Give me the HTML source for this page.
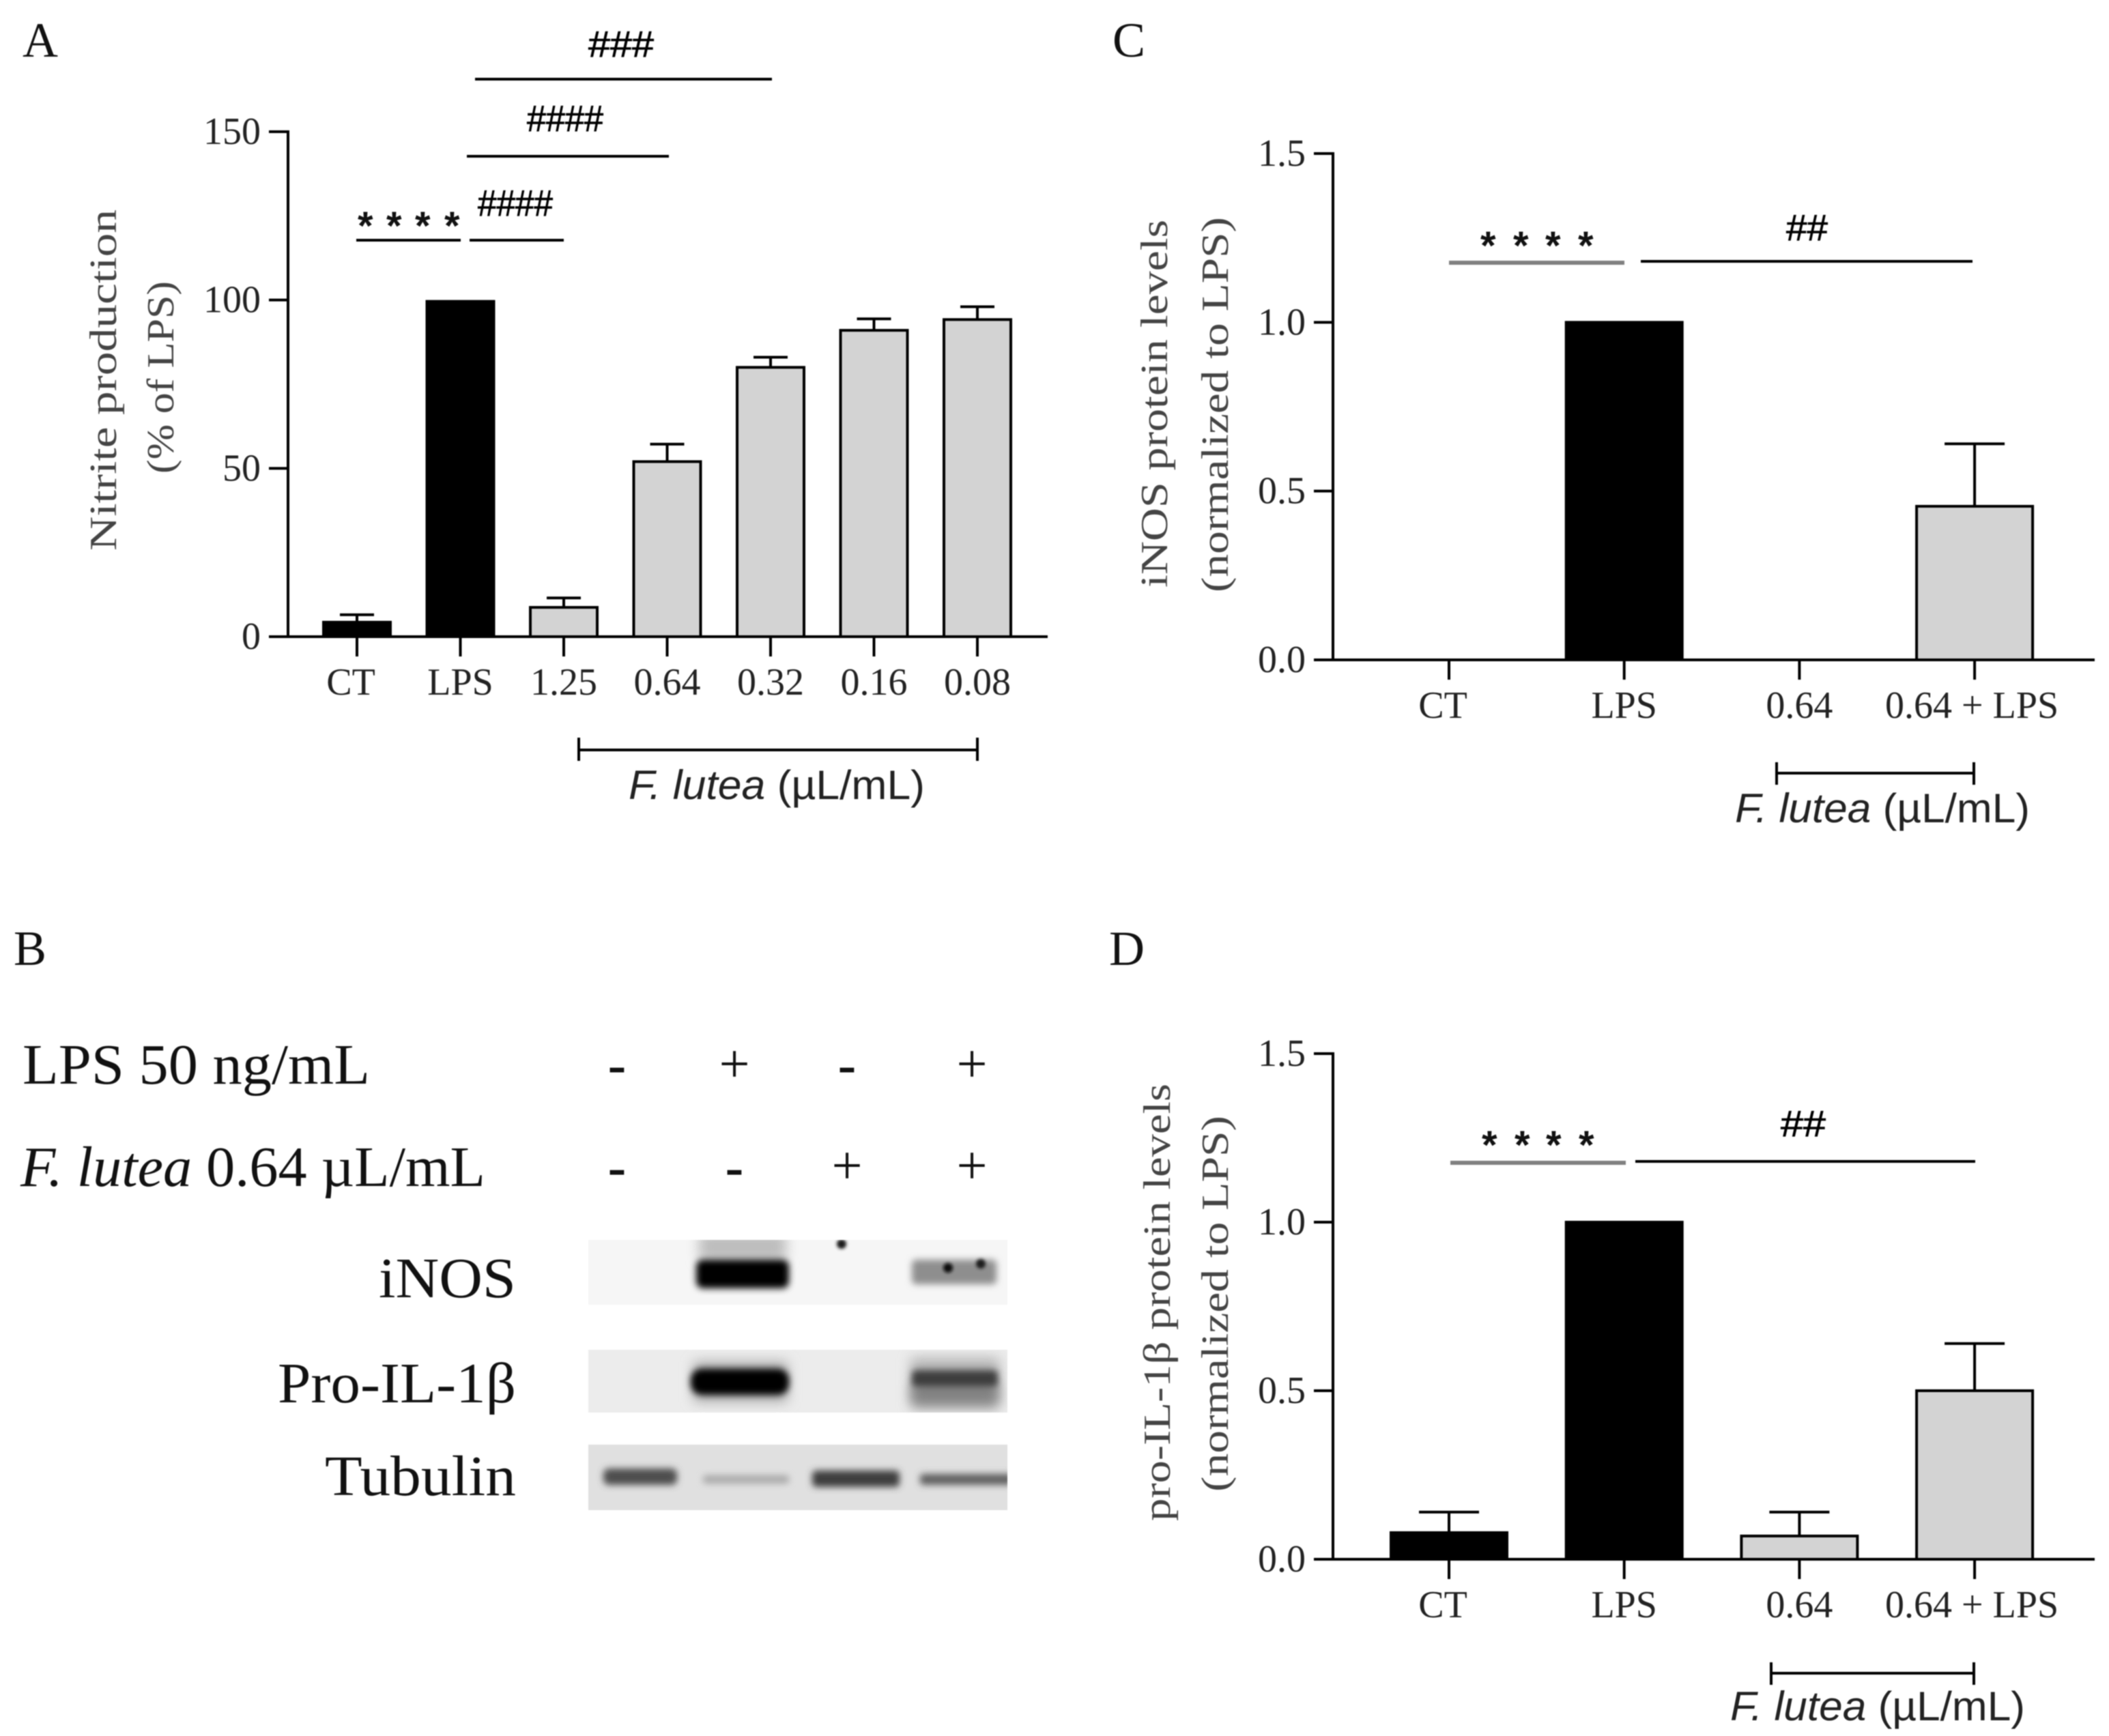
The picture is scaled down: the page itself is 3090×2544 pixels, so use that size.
<!DOCTYPE html>
<html lang="en">
<head>
<meta charset="utf-8">
<title>F. lutea nitrite, iNOS and pro-IL-1β figure</title>
<style>
html,body{margin:0;padding:0;background:#fff;}
svg{display:block;filter:blur(0.8px);}
text{font-family:"Liberation Serif",serif;fill:#222;}
.sans{font-family:"Liberation Sans",sans-serif;}
.tick{font-size:56px;}
.ytitle{font-size:56px;fill:#444;}
.panel{font-size:72px;fill:#111;}
.ann{font-family:"Liberation Sans",sans-serif;font-size:54px;fill:#000;stroke:#000;stroke-width:0.8px;}
.star{font-family:"Liberation Sans",sans-serif;font-size:58px;font-weight:bold;fill:#111;}
.sig{stroke:#000;stroke-width:4;fill:none;}
.sigg{stroke:#808080;stroke-width:6;fill:none;}
.blotlab{font-size:84px;fill:#111;}
.sign{font-size:80px;fill:#111;text-anchor:middle;}
</style>
</head>
<body>
<svg id="figure" xmlns="http://www.w3.org/2000/svg" width="3090" height="2544" viewBox="0 0 3090 2544">
  <defs>
    <filter id="b3" x="-30%" y="-80%" width="160%" height="260%"><feGaussianBlur stdDeviation="5"/></filter>
    <filter id="b6" x="-30%" y="-80%" width="160%" height="260%"><feGaussianBlur stdDeviation="9"/></filter>
    <filter id="b2" x="-80%" y="-80%" width="260%" height="260%"><feGaussianBlur stdDeviation="2.5"/></filter>
    <clipPath id="clipInos"><rect x="862" y="1817" width="614" height="95"/></clipPath>
    <clipPath id="clipPro"><rect x="862" y="1978" width="614" height="92"/></clipPath>
    <clipPath id="clipTub"><rect x="862" y="2117" width="614" height="96"/></clipPath>
  </defs>
  <rect width="3090" height="2544" fill="#fff"/>

  <g id="panelA"></g>
  <g id="panelC"></g>
  <g id="panelD"></g>

  <!-- panel letters -->
  <text class="panel" x="33" y="83">A</text>
  <text class="panel" x="20" y="1414">B</text>
  <text class="panel" x="1630" y="83">C</text>
  <text class="panel" x="1625" y="1414">D</text>

  <!-- panel A annotations -->
  <g>
    <text class="ann" x="862" y="83" textLength="96" lengthAdjust="spacingAndGlyphs">###</text>
    <line class="sig" x1="696" y1="116" x2="1131" y2="116"/>
    <text class="ann" x="772" y="192" textLength="112" lengthAdjust="spacingAndGlyphs">####</text>
    <line class="sig" x1="684" y1="229" x2="980" y2="229"/>
    <text class="ann" x="700" y="316" textLength="110" lengthAdjust="spacingAndGlyphs">####</text>
    <line class="sig" x1="688" y1="352" x2="826" y2="352"/>
    <text class="star" x="524 566 608 651" y="351">****</text>
    <line class="sig" x1="522" y1="352" x2="675" y2="352"/>
  </g>
  <g>
    <path class="sig" d="M848 1081V1115M848 1099H1432M1432 1081V1115"/>
    <text class="sans" x="921" y="1171" font-size="60" textLength="434" lengthAdjust="spacingAndGlyphs"><tspan font-style="italic">F. lutea</tspan> (µL/mL)</text>
  </g>

  <!-- panel C annotations -->
  <g>
    <text class="star" x="2169 2217 2264 2312" y="380">****</text>
    <line class="sigg" x1="2123" y1="385" x2="2380" y2="385"/>
    <text class="ann" x="2617" y="352" textLength="61" lengthAdjust="spacingAndGlyphs">##</text>
    <line class="sig" x1="2404" y1="383" x2="2890" y2="383"/>
  </g>
  <g>
    <path class="sig" d="M2603 1117V1150M2603 1133H2892M2892 1117V1150"/>
    <text class="sans" x="2542" y="1205" font-size="60" textLength="432" lengthAdjust="spacingAndGlyphs"><tspan font-style="italic">F. lutea</tspan> (µL/mL)</text>
  </g>

  <!-- panel D annotations -->
  <g>
    <text class="star" x="2171 2219 2265 2313" y="1698">****</text>
    <line class="sigg" x1="2125" y1="1704" x2="2382" y2="1704"/>
    <text class="ann" x="2609" y="1665" textLength="66" lengthAdjust="spacingAndGlyphs">##</text>
    <line class="sig" x1="2396" y1="1702" x2="2894" y2="1702"/>
  </g>
  <g>
    <path class="sig" d="M2595 2436V2469M2595 2452H2892M2892 2436V2469"/>
    <text class="sans" x="2535" y="2521" font-size="60" textLength="432" lengthAdjust="spacingAndGlyphs"><tspan font-style="italic">F. lutea</tspan> (µL/mL)</text>
  </g>

  <!-- panel B western blot -->
  <g>
    <text class="blotlab" x="33" y="1588" textLength="509" lengthAdjust="spacingAndGlyphs">LPS 50 ng/mL</text>
    <text class="blotlab" x="30" y="1738" textLength="681" lengthAdjust="spacingAndGlyphs"><tspan font-style="italic">F. lutea</tspan> 0.64 µL/mL</text>

    <text class="sign" font-weight="bold" x="904" y="1587">-</text>
    <text class="sign" x="1076" y="1586">+</text>
    <text class="sign" font-weight="bold" x="1241" y="1587">-</text>
    <text class="sign" x="1424" y="1586">+</text>
    <text class="sign" font-weight="bold" x="904" y="1737">-</text>
    <text class="sign" font-weight="bold" x="1076" y="1737">-</text>
    <text class="sign" x="1241" y="1735">+</text>
    <text class="sign" x="1424" y="1735">+</text>

    <text class="blotlab" x="555" y="1901" textLength="201" lengthAdjust="spacingAndGlyphs">iNOS</text>
    <text class="blotlab" x="407" y="2055" textLength="349" lengthAdjust="spacingAndGlyphs">Pro-IL-1β</text>
    <text class="blotlab" x="476" y="2191" textLength="280" lengthAdjust="spacingAndGlyphs">Tubulin</text>

    <g clip-path="url(#clipInos)">
      <rect x="862" y="1817" width="614" height="95" fill="#f6f6f6"/>
      <rect x="1024" y="1806" width="128" height="42" fill="#bdbdbd" filter="url(#b6)"/>
      <rect x="1020" y="1846" width="136" height="42" rx="10" fill="#000" filter="url(#b3)"/>
      <rect x="1336" y="1846" width="124" height="36" rx="6" fill="#8e8e8e" filter="url(#b3)"/>
      <circle cx="1233" cy="1823" r="7" fill="#1a1a1a" filter="url(#b2)"/>
      <circle cx="1389" cy="1858" r="7" fill="#0a0a0a" filter="url(#b2)"/>
      <circle cx="1437" cy="1852" r="7" fill="#1a1a1a" filter="url(#b2)"/>
    </g>
    <g clip-path="url(#clipPro)">
      <rect x="862" y="1978" width="614" height="92" fill="#ececec"/>
      <rect x="1016" y="1996" width="138" height="58" fill="#a8a8a8" filter="url(#b6)"/>
      <rect x="1012" y="2006" width="144" height="38" rx="16" fill="#000" filter="url(#b3)"/>
      <rect x="1334" y="1990" width="130" height="74" fill="#b4b4b4" filter="url(#b6)"/>
      <rect x="1336" y="2026" width="126" height="32" rx="6" fill="#808080" filter="url(#b6)"/>
      <rect x="1336" y="2008" width="126" height="24" rx="6" fill="#3c3c3c" filter="url(#b3)"/>
    </g>
    <g clip-path="url(#clipTub)">
      <rect x="862" y="2117" width="614" height="96" fill="#e0e0e0"/>
      <rect x="884" y="2152" width="108" height="24" rx="8" fill="#4e4e4e" filter="url(#b3)"/>
      <rect x="1030" y="2162" width="126" height="12" rx="4" fill="#a8a8a8" filter="url(#b3)"/>
      <rect x="1190" y="2155" width="128" height="24" rx="6" fill="#3e3e3e" filter="url(#b3)"/>
      <rect x="1348" y="2160" width="136" height="16" rx="4" fill="#5e5e5e" filter="url(#b3)"/>
    </g>
  </g>
</svg>

<script>
// Panel A data
const aCategories = ['CT', 'LPS', '1.25', '0.64', '0.32', '0.16', '0.08'];
const aValues = [4.3, 99.6, 8.7, 52, 80, 91, 94.2];
const aErrors = [2.2, 0, 2.8, 5.2, 3, 3.4, 3.8];
const aTicks = [0, 50, 100, 150];
const aTickLabels = ['0', '50', '100', '150'];

// Panel C data
const cCategories = ['CT', 'LPS', '0.64', '0.64 + LPS'];
const cValues = [0, 1, 0, 0.455];
const cErrors = [0, 0, 0, 0.185];
const cTicks = [0, 0.5, 1, 1.5];
const cTickLabels = ['0.0', '0.5', '1.0', '1.5'];

// Panel D data
const dCategories = ['CT', 'LPS', '0.64', '0.64 + LPS'];
const dValues = [0.079, 1, 0.069, 0.5];
const dErrors = [0.061, 0, 0.071, 0.14];
const dTicks = [0, 0.5, 1, 1.5];
const dTickLabels = ['0.0', '0.5', '1.0', '1.5'];

const SVGNS = 'http://www.w3.org/2000/svg';
function mk(parent, tag, attrs, txt) {
  const el = document.createElementNS(SVGNS, tag);
  for (const k in attrs) el.setAttribute(k, attrs[k]);
  if (txt !== undefined) el.textContent = txt;
  parent.appendChild(el);
  return el;
}

function drawPanel(p) {
  const g = document.getElementById(p.id);
  const yMax = p.yTicks[p.yTicks.length - 1];
  const yScale = v => p.y0 - (v / yMax) * (p.y0 - p.yTop);
  const xScale = i => p.x0 + i * p.step;

  p.values.forEach((v, i) => {
    const cx = xScale(i);
    const top = yScale(v);
    if (p.errors[i] > 0) {
      const ey = yScale(v + p.errors[i]);
      const err = mk(g, 'path', {
        d: 'M' + cx + ' ' + top + 'V' + ey + 'M' + (cx - p.cap) + ' ' + ey + 'H' + (cx + p.cap),
        stroke: '#000', 'stroke-width': 4, fill: 'none'
      });
      
      
    }
    const dark = i < 2;
    const bar = mk(g, 'rect', {
      x: cx - p.barW / 2, y: top, width: p.barW, height: Math.max(0, p.y0 - top),
      fill: dark ? '#000' : '#d3d3d3', stroke: '#000', 'stroke-width': v > 0 ? 4 : 0
    });
    
    

    const tk = mk(g, 'line', { x1: cx, x2: cx, y1: p.y0, y2: p.y0 + 29, stroke: '#000', 'stroke-width': 4 });
    
    

    const lab = mk(g, 'text', {
      class: 'tick', x: cx + (i === 0 ? -9 : 0) + (i === 3 && p.key !== 'a' ? -4 : 0), y: p.y0 + p.labelDy, 'text-anchor': 'middle'
    }, p.categories[i]);
    
    
  });

  const yAxis = mk(g, 'line', { x1: p.axisX, x2: p.axisX, y1: p.yTop - 2, y2: p.y0 + 2, stroke: '#000', 'stroke-width': 4 });
  
  
  const xAxis = mk(g, 'line', { x1: p.axisX - 28, x2: p.axisEnd, y1: p.y0, y2: p.y0, stroke: '#000', 'stroke-width': 4 });
  
  

  p.yTicks.forEach((t, i) => {
    const y = yScale(t);
    const tk = mk(g, 'line', { x1: p.axisX - 28, x2: p.axisX, y1: y, y2: y, stroke: '#000', 'stroke-width': 4 });
    
    
    const lab = mk(g, 'text', { class: 'tick', x: p.axisX - 40, y: y + 18, 'text-anchor': 'end' }, p.yLabels[i]);
    
    
  });

  p.titles.forEach((t, i) => {
    const title = mk(g, 'text', {
      class: 'ytitle',
      transform: 'translate(' + t.x + ',' + t.bottom + ') rotate(-90)',
      x: 0, y: 0, textLength: t.len, lengthAdjust: 'spacingAndGlyphs'
    }, t.text);
    
    
  });
}

drawPanel({
  id: 'panelA', key: 'a', categories: aCategories, values: aValues, errors: aErrors,
  yTicks: aTicks, yLabels: aTickLabels,
  x0: 523, step: 151.5, barW: 98, cap: 25, y0: 933, yTop: 193, axisX: 422, axisEnd: 1535, labelDy: 85,
  titles: [
    { text: 'Nitrite production', x: 170, bottom: 807, len: 500 },
    { text: '(% of LPS)', x: 254, bottom: 694, len: 282 }
  ]
});
drawPanel({
  id: 'panelC', key: 'c', categories: cCategories, values: cValues, errors: cErrors,
  yTicks: cTicks, yLabels: cTickLabels,
  x0: 2123, step: 256.7, barW: 170, cap: 44, y0: 967, yTop: 225, axisX: 1953, axisEnd: 3069, labelDy: 85,
  titles: [
    { text: 'iNOS protein levels', x: 1710, bottom: 861, len: 539 },
    { text: '(normalized to LPS)', x: 1799, bottom: 868, len: 550 }
  ]
});
drawPanel({
  id: 'panelD', key: 'd', categories: dCategories, values: dValues, errors: dErrors,
  yTicks: dTicks, yLabels: dTickLabels,
  x0: 2123, step: 256.7, barW: 170, cap: 44, y0: 2285, yTop: 1544, axisX: 1953, axisEnd: 3069, labelDy: 85,
  titles: [
    { text: 'pro-IL-1β protein levels', x: 1714, bottom: 2229, len: 641 },
    { text: '(normalized to LPS)', x: 1799, bottom: 2186, len: 551 }
  ]
});
</script>
</body>
</html>
